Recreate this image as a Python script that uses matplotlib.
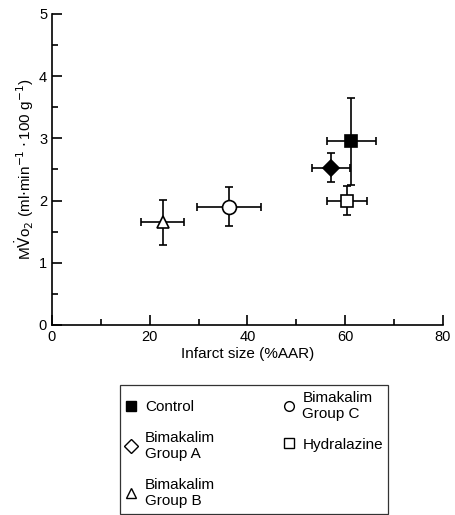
import matplotlib
matplotlib.use("Agg")
import matplotlib.pyplot as plt
from matplotlib.lines import Line2D
from matplotlib.ticker import MultipleLocator

plt.rcParams["font.family"] = ["Liberation Sans", "DejaVu Sans"]

# group means and SEMs
groups = ["Control", "Bimakalim\nGroup A", "Bimakalim\nGroup B",
          "Bimakalim\nGroup C", "Hydralazine"]
infarct = [61.3, 57.2, 22.7, 36.2, 60.4]
infarct_err = [5.0, 3.9, 4.4, 6.6, 4.0]
mvo2 = [2.95, 2.53, 1.65, 1.90, 2.00]
mvo2_err = [0.70, 0.24, 0.36, 0.31, 0.24]

markers = ["s", "D", "^", "o", "s"]
faces = ["black", "black", "white", "white", "white"]
sizes = [8, 8, 9, 10, 8]
legend_faces = ["black", "white", "white", "white", "white"]

fig = plt.figure(figsize=(4.56, 5.15), dpi=100)
ax = fig.add_axes([0.114, 0.369, 0.857, 0.604])

for x, xe, y, ye, m, fc, ms in zip(infarct, infarct_err, mvo2, mvo2_err,
                                   markers, faces, sizes):
    ax.errorbar(x, y, xerr=xe, yerr=ye, fmt=m, mfc=fc, mec="black",
                ms=ms, mew=1.2, ecolor="black", elinewidth=1.2,
                capsize=3, capthick=1.2, zorder=3)

ax.set_xlim(0, 80)
ax.set_ylim(0, 5)
ax.xaxis.set_major_locator(MultipleLocator(20))
ax.xaxis.set_minor_locator(MultipleLocator(10))
ax.yaxis.set_major_locator(MultipleLocator(1))
ax.yaxis.set_minor_locator(MultipleLocator(0.5))
ax.tick_params(which="both", direction="in", width=1.2)
ax.tick_params(which="major", length=7, labelsize=10.5)
ax.tick_params(which="minor", length=4)
for s in ["top", "right"]:
    ax.spines[s].set_visible(False)
for s in ["left", "bottom"]:
    ax.spines[s].set_linewidth(1.2)

ax.set_xlabel("Infarct size (%AAR)", fontsize=11, labelpad=2)
ax.set_ylabel(r"M$\dot{\rm V}$o$_2$ (ml$\cdot$min$^{-1}\cdot$100 g$^{-1}$)",
              fontsize=11, labelpad=2)

handles = [Line2D([], [], ls="none", marker=m, mfc=fc, mec="black",
                  ms=7, mew=1.0)
           for m, fc in zip(markers, legend_faces)]
leg = fig.legend(handles, groups, ncol=2, loc="upper left",
                 bbox_to_anchor=(0.263, 0.252), borderaxespad=0,
                 frameon=True, fancybox=False, edgecolor="black",
                 fontsize=11, handlelength=0.8, handletextpad=0.5,
                 columnspacing=4.4, labelspacing=1.1, borderpad=0.35)
leg.get_frame().set_linewidth(0.9)

fig.savefig("out.png", dpi=100)
